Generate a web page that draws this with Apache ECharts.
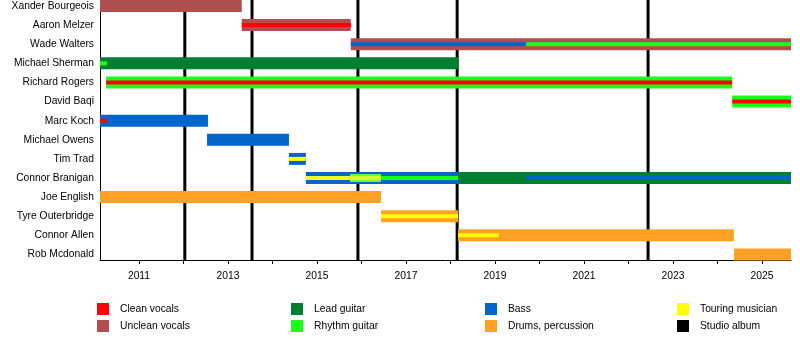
<!DOCTYPE html>
<html>
<head>
<meta charset="utf-8">
<script src="https://cdn.jsdelivr.net/npm/echarts@6/dist/echarts.min.js"></script>
<style>
html,body{margin:0;padding:0;background:#fff;}
#c{width:800px;height:340px;}
</style>
</head>
<body>
<div id="c"></div>
<script>
// ---- data ----
const members = ["Xander Bourgeois","Aaron Melzer","Wade Walters","Michael Sherman","Richard Rogers","David Baqi","Marc Koch","Michael Owens","Tim Trad","Connor Branigan","Joe English","Tyre Outerbridge","Connor Allen","Rob Mcdonald"];
const yearStart = 2010.124;
const yearEnd = 2025.652;
const labelYears = [2011,2013,2015,2017,2019,2021,2023,2025];
const tickYears = [2011,2012,2013,2014,2015,2016,2017,2018,2019,2020,2021,2022,2023,2024,2025];
const albums = [2012.03, 2013.54, 2015.92, 2018.15, 2022.44];
// [row, start, end, role, layer]
const segments = [
  [0, 2010.124, 2013.31, "unclean", "full"],
  [1, 2013.31, 2015.76, "unclean", "full"],
  [1, 2013.31, 2015.76, "clean", "stripe"],
  [2, 2015.76, 2025.652, "unclean", "full"],
  [2, 2015.76, 2019.70, "bass", "stripe"],
  [2, 2019.70, 2025.652, "rhythm", "stripe"],
  [3, 2010.124, 2018.17, "lead", "full"],
  [3, 2010.124, 2010.28, "rhythm", "stripe"],
  [4, 2010.26, 2024.33, "rhythm", "full"],
  [4, 2010.26, 2024.33, "clean", "stripe"],
  [5, 2024.33, 2025.652, "rhythm", "full"],
  [5, 2024.33, 2025.652, "clean", "stripe"],
  [6, 2010.124, 2012.55, "bass", "full"],
  [6, 2010.124, 2010.28, "clean", "stripe"],
  [7, 2012.53, 2014.37, "bass", "full"],
  [8, 2014.37, 2014.75, "bass", "full"],
  [8, 2014.37, 2014.75, "touring", "stripe"],
  [9, 2014.75, 2018.17, "bass", "full"],
  [9, 2014.75, 2015.74, "touringMix", "stripe"],
  [9, 2015.74, 2016.44, "rhythmMix", "mid"],
  [9, 2015.74, 2016.44, "touringMix2", "stripe"],
  [9, 2016.44, 2018.17, "rhythm", "stripe"],
  [9, 2018.17, 2025.652, "lead", "full"],
  [9, 2019.70, 2025.652, "bass", "stripe"],
  [10, 2010.124, 2016.44, "drums", "full"],
  [11, 2016.44, 2018.17, "drums", "full"],
  [11, 2016.44, 2018.17, "touring", "stripe"],
  [12, 2018.17, 2024.37, "drums", "full"],
  [12, 2018.17, 2019.09, "touring", "stripe"],
  [13, 2024.37, 2025.652, "drums", "full"]
];
const legendLabels = ["Clean vocals","Unclean vocals","Lead guitar","Rhythm guitar","Bass","Drums, percussion","Touring musician","Studio album"];
const legendRoles = ["clean","unclean","lead","rhythm","bass","drums","touring","album"];

// ---- styles ----
const colors = {
  clean:"#ff0000", unclean:"#b04f4f", lead:"#007f33", rhythm:"#1aff1a",
  bass:"#0066cc", drums:"#ffa126", touring:"#ffff00", album:"#000000",
  touringMix:"#e8ff2a", rhythmMix:"#66ff33", touringMix2:"#d4ff2a"
};
const layerH = {full:12, mid:8, stripe:4};
const FONT_FAMILY = '"Liberation Sans", Arial, sans-serif';
const FS = 10.3;

const barData = segments.map(s => ({
  value:[s[1], s[0], s[2], layerH[s[4]]],
  itemStyle:{color:colors[s[3]]}
}));

const chart = echarts.init(document.getElementById('c'), null, {renderer:'canvas'});

const graphics = [];
const colX = [97, 291, 485, 677];
legendLabels.forEach((lab, i) => {
  const col = Math.floor(i/2), row = i%2;
  const x = colX[col], y = 303 + row*17;
  graphics.push({type:'rect', left:x, top:y, shape:{width:12, height:12}, style:{fill:colors[legendRoles[i]]}});
  graphics.push({type:'text', left:x+23, top:y+1.5, style:{text:lab, fill:'#000', font:FS+'px ' + FONT_FAMILY}});
});

chart.setOption({
  animation:false,
  backgroundColor:'#fff',
  grid:{left:100, right:9, top:0, bottom:80, containLabel:false},
  xAxis:{
    type:'value', min:yearStart, max:yearEnd, position:'bottom',
    axisLine:{show:true, onZero:false, lineStyle:{color:'#000', width:1}},
    axisTick:{show:true, length:4, lineStyle:{color:'#000'}, customValues:tickYears},
    axisLabel:{customValues:labelYears, color:'#000', fontSize:FS, fontFamily:FONT_FAMILY, margin:11, formatter:v=>String(Math.round(v))},
    splitLine:{show:false}
  },
  yAxis:{
    type:'value', inverse:true, min:-0.314, max:13.29,
    axisLine:{show:true, onZero:false, lineStyle:{color:'#000', width:1}},
    axisTick:{show:false},
    axisLabel:{customValues:members.map((m,i)=>i), color:'#000', fontSize:FS, fontFamily:FONT_FAMILY, margin:6, padding:[4,0,0,0], formatter:v=>members[Math.round(v)]||''},
    splitLine:{show:false}
  },
  series:[
    {
      type:'custom', z:1, silent:true,
      data:albums.map(a=>[a]),
      encode:{x:0},
      renderItem:function(params, api){
        const cs = params.coordSys;
        const x = api.coord([api.value(0), 0])[0];
        return {type:'line', shape:{x1:x, y1:cs.y, x2:x, y2:cs.y+cs.height}, style:{stroke:'#000', lineWidth:3}};
      }
    },
    {
      type:'custom', z:2, silent:true,
      data:barData,
      encode:{x:[0,2], y:1},
      renderItem:function(params, api){
        const p1 = api.coord([api.value(0), api.value(1)]);
        const p2 = api.coord([api.value(2), api.value(1)]);
        const h = api.value(3);
        return {type:'rect', shape:{x:p1[0], y:p1[1]-h/2, width:p2[0]-p1[0], height:h}, style:{fill:api.visual('color')}};
      }
    }
  ],
  graphic:graphics
});
</script>
</body>
</html>
